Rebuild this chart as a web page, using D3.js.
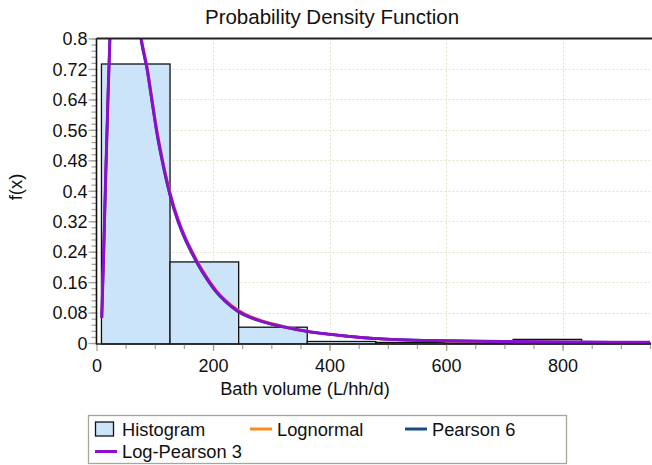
<!DOCTYPE html>
<html><head><meta charset="utf-8">
<script src="https://cdn.jsdelivr.net/npm/d3@7"></script>
<style>body{margin:0;background:#fff;} svg{display:block;font-family:"Liberation Sans",Arial,sans-serif;}</style>
</head><body>
<svg id="c" width="652" height="465"></svg>
<script>
// ---- data ----
const binEdges = [8.5, 126.2, 244, 361.7, 479.5, 597.2, 715, 832.7, 950.5];
const binHeights = [0.733, 0.213, 0.0415, 0.004, 0.0015, 0.0, 0.0095, 0.0];
const xTicks = [0, 200, 400, 600, 800];
const yTicks = [0, 0.08, 0.16, 0.24, 0.32, 0.4, 0.48, 0.56, 0.64, 0.72, 0.8];
const yTickLabels = ["0","0.08","0.16","0.24","0.32","0.4","0.48","0.56","0.64","0.72","0.8"];
const curveX = [9, 12, 16, 20, 23, 35, 45, 55, 65, 76, 87, 95, 103, 115, 126, 140, 152, 164, 175, 189, 205, 220, 243, 265, 286, 320, 361, 400, 430, 481, 520, 600, 700, 800, 950];
const lognormalY = [0.066, 0.22, 0.45, 0.66, 0.80, 1.08, 1.12, 1.06, 0.95, 0.81, 0.725, 0.645, 0.567, 0.47, 0.398, 0.327, 0.28, 0.242, 0.21, 0.175, 0.14, 0.115, 0.087, 0.069, 0.058, 0.044, 0.031, 0.023, 0.018, 0.0115, 0.0085, 0.0055, 0.0033, 0.0022, 0.0014];
const pearson6Y = [0.066, 0.22, 0.45, 0.66, 0.80, 1.08, 1.12, 1.05, 0.94, 0.80, 0.715, 0.635, 0.555, 0.46, 0.388, 0.318, 0.272, 0.234, 0.203, 0.168, 0.134, 0.11, 0.082, 0.066, 0.055, 0.042, 0.03, 0.023, 0.018, 0.0115, 0.0088, 0.006, 0.0038, 0.0027, 0.0018];
const logPearson3Y = [0.066, 0.22, 0.45, 0.66, 0.80, 1.08, 1.12, 1.055, 0.945, 0.805, 0.72, 0.64, 0.56, 0.465, 0.392, 0.322, 0.276, 0.238, 0.206, 0.171, 0.137, 0.112, 0.084, 0.067, 0.056, 0.043, 0.031, 0.023, 0.018, 0.0115, 0.0087, 0.006, 0.0037, 0.0026, 0.0017];
const seriesNames = ["Lognormal", "Pearson 6", "Log-Pearson 3"];
const seriesColors = ["#ff8a1c", "#1a4a8a", "#8a0fd0"];

// ---- layout ----
const svg = d3.select("#c");
const L = 96.5, R = 650, T = 38.5, B = 343;
const x = d3.scaleLinear().domain([0, 950]).range([L, R]);
const y = d3.scaleLinear().domain([0, 0.8]).range([B, T]);

svg.append("defs").append("clipPath").attr("id","clip")
  .append("rect").attr("x", L).attr("y", T).attr("width", R - L + 2).attr("height", B - T + 1);

// grid
const grid = svg.append("g").attr("stroke","#e4e0c4").attr("stroke-width",1).attr("stroke-dasharray","2,2");
yTicks.slice(1, -1).forEach(v => grid.append("line").attr("x1", L).attr("x2", R).attr("y1", Math.round(y(v))+0.5).attr("y2", Math.round(y(v))+0.5));
xTicks.slice(1).forEach(v => grid.append("line").attr("y1", T).attr("y2", B).attr("x1", Math.round(x(v))+0.5).attr("x2", Math.round(x(v))+0.5));

// histogram
const bars = binHeights.map((h, i) => ({x0: binEdges[i], x1: binEdges[i+1], h}));
svg.append("g").selectAll("rect").data(bars).join("rect")
  .attr("x", d => x(d.x0)).attr("width", d => x(d.x1) - x(d.x0))
  .attr("y", d => y(d.h)).attr("height", d => B + 1 - y(d.h))
  .attr("fill", "#cce4fa").attr("stroke", "#111").attr("stroke-width", 1.3);

// curves
const seriesY = [lognormalY, pearson6Y, logPearson3Y];
const line = d3.line().x(d => x(d[0])).y(d => y(d[1])).curve(d3.curveMonotoneX);
const cg = svg.append("g").attr("clip-path","url(#clip)");
seriesY.forEach((ys, i) => {
  cg.append("path").datum(curveX.map((v, j) => [v, ys[j]]))
    .attr("d", line).attr("fill","none").attr("stroke", seriesColors[i])
    .attr("stroke-width", i === 2 ? 3 : 2.6).attr("stroke-linejoin","round");
});

// axes
const xAxis = d3.axisBottom(x).tickValues(xTicks).tickSize(7).tickFormat(d3.format("d"));
const xMinor = d3.axisBottom(x).tickValues(d3.range(50, 951, 50)).tickSize(5).tickFormat("");
const gxm = svg.append("g").attr("transform", `translate(0,${B+1})`).call(xMinor);
const gx = svg.append("g").attr("transform", `translate(0,${B+1})`).call(xAxis);
const yAxis = d3.axisLeft(y).tickValues(yTicks).tickSize(8).tickFormat((d, i) => yTickLabels[i]);
const yMinor = d3.axisLeft(y).tickValues(d3.range(0, 0.8001, 0.016)).tickSize(5).tickFormat("");
const gym = svg.append("g").attr("transform", `translate(${L},0)`).call(yMinor);
const gy = svg.append("g").attr("transform", `translate(${L},0)`).call(yAxis);
[gx, gxm, gy, gym].forEach(g => {
  g.select(".domain").remove();
  g.selectAll(".tick line").attr("stroke", "#aaa697").attr("stroke-width", 1.3);
  g.selectAll("text").attr("font-size", 18).attr("fill", "#111").attr("font-family", "Liberation Sans, Arial, sans-serif");
});
gx.selectAll("text").attr("dy", "1.0em");
gy.selectAll("text").attr("dy", "0.35em").attr("x", -9);

// axis lines + top border
svg.append("line").attr("x1", L).attr("x2", L).attr("y1", T).attr("y2", B + 1.5).attr("stroke", "#111").attr("stroke-width", 1.6);
svg.append("line").attr("x1", L).attr("x2", R + 1).attr("y1", B + 1).attr("y2", B + 1).attr("stroke", "#222").attr("stroke-width", 1.6);
svg.append("line").attr("x1", L).attr("x2", R + 2).attr("y1", T).attr("y2", T).attr("stroke", "#222").attr("stroke-width", 1.8);

// titles
svg.append("text").attr("x", 332).attr("y", 24).attr("text-anchor","middle").attr("font-size", 20.5).attr("fill","#111").text("Probability Density Function");
svg.append("text").attr("x", 305).attr("y", 395).attr("text-anchor","middle").attr("font-size", 18.3).attr("fill","#111").text("Bath volume (L/hh/d)");
svg.append("text").attr("transform", "translate(22,187) rotate(-90)").attr("text-anchor","middle").attr("font-size", 18.5).attr("fill","#111").text("f(x)");

// legend
const lg = svg.append("g");
lg.append("rect").attr("x", 88.5).attr("y", 415.5).attr("width", 478).attr("height", 48).attr("fill","#fff").attr("stroke","#aaa697").attr("stroke-width", 1.3);
lg.append("rect").attr("x", 95.5).attr("y", 422).attr("width", 18).attr("height", 14).attr("fill","#cce4fa").attr("stroke","#111").attr("stroke-width",1.3);
lg.append("text").attr("x", 122).attr("y", 435.5).attr("font-size", 18.3).attr("fill","#111").text("Histogram");
const legPos = [[250, 429, 277, 435.5], [405, 429, 432, 435.5], [95, 451.5, 122, 458]];
seriesNames.forEach((n, i) => {
  const p = legPos[i];
  lg.append("line").attr("x1", p[0]).attr("x2", p[0] + 22).attr("y1", p[1]).attr("y2", p[1]).attr("stroke", seriesColors[i]).attr("stroke-width", 3);
  lg.append("text").attr("x", p[2]).attr("y", p[3]).attr("font-size", 18.3).attr("fill","#111").text(n);
});
</script>
</body></html>
